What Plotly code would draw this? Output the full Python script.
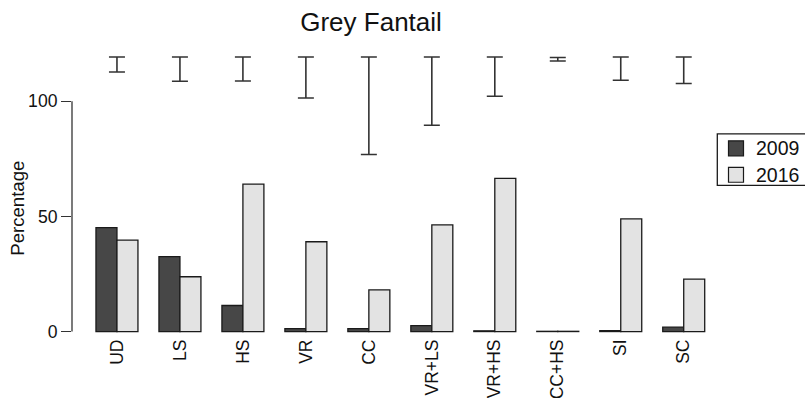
import plotly.graph_objects as go

# Habitat treatments on the x axis
categories = ["UD", "LS", "HS", "VR", "CC", "VR+LS", "VR+HS", "CC+HS", "SI", "SC"]

# Percentage of sites with Grey Fantail present, by survey year
pct_2009 = [45.1, 32.5, 11.3, 1.3, 1.3, 2.6, 0.3, 0.1, 0.4, 1.9]
pct_2016 = [39.7, 23.8, 64.0, 39.0, 18.1, 46.3, 66.5, 0.1, 48.9, 22.8]

# Interval bars drawn above each treatment group
interval_low = [112.7, 108.7, 108.8, 101.4, 76.9, 89.6, 102.2, 117.5, 109.1, 107.7]
interval_high = [119.2, 119.2, 119.2, 119.2, 119.2, 119.2, 119.2, 119.0, 119.2, 119.2]

y_ticks = [0, 50, 100]

series = [("2009", pct_2009, "#474747"), ("2016", pct_2016, "#e3e3e3")]

FONT = "Liberation Sans, Arial, Helvetica, sans-serif"
INK = "#1a1a1a"
TEXT = "#111111"

W, H = 805, 398
M_L, M_R, M_T, M_B = 72, 76, 46, 62.5
PLOT_W = W - M_L - M_R
PLOT_H = H - M_T - M_B


def px_x(px):
    """Horizontal pixel position -> paper coordinate."""
    return (px - M_L) / PLOT_W


def px_y(py):
    """Vertical pixel position (from top) -> paper coordinate."""
    return (H - M_B - py) / PLOT_H


fig = go.Figure()

for name, values, color in series:
    fig.add_trace(go.Bar(
        x=categories, y=values, name=name, showlegend=False,
        marker=dict(color=color, line=dict(color=INK, width=1.3)),
    ))

fig.add_trace(go.Scatter(
    x=categories, y=interval_low, mode="markers",
    marker=dict(size=1, color="rgba(0,0,0,0)"),
    error_y=dict(
        type="data", symmetric=False,
        array=[h - l for h, l in zip(interval_high, interval_low)],
        arrayminus=[0] * len(categories),
        width=8, thickness=1.6, color="#333333",
    ),
    showlegend=False, hoverinfo="skip",
))

# Axis spine spanning only the labelled tick range
fig.add_shape(type="line", xref="paper", yref="y",
              x0=0, x1=0, y0=y_ticks[0], y1=y_ticks[-1],
              line=dict(color="#333333", width=1.3))

# Legend box at the right edge, running off the page
fig.add_shape(type="rect", xref="paper", yref="paper",
              x0=px_x(717.3), x1=px_x(812), y0=px_y(185.7), y1=px_y(134),
              line=dict(color=INK, width=1.3), fillcolor="white", layer="above")
for i, (name, _, color) in enumerate(series):
    top = 141 + i * 26.5
    fig.add_shape(type="rect", xref="paper", yref="paper",
                  x0=px_x(728.5), x1=px_x(743.5), y0=px_y(top + 15), y1=px_y(top),
                  line=dict(color=INK, width=1.2), fillcolor=color, layer="above")
    fig.add_annotation(text=name, xref="paper", yref="paper",
                       x=px_x(754), y=px_y(top + 7.5), xanchor="left", yanchor="middle",
                       showarrow=False,
                       font=dict(size=19.5, color=TEXT, family=FONT))

fig.add_annotation(text="Percentage", textangle=-90,
                   xref="paper", yref="paper", x=px_x(18), y=px_y(209),
                   xanchor="center", yanchor="middle",
                   showarrow=False, font=dict(size=18.6, color=TEXT, family=FONT))

fig.update_layout(
    width=W, height=H,
    margin=dict(l=M_L, r=M_R, t=M_T, b=M_B, autoexpand=False),
    paper_bgcolor="white", plot_bgcolor="white",
    font=dict(family=FONT, color=TEXT),
    title=dict(text="Grey Fantail", x=0.4609, xref="container", xanchor="center",
               y=0.9447, yref="container", yanchor="middle",
               font=dict(size=26, color=TEXT, family=FONT)),
    barmode="group", bargap=1/3, bargroupgap=0,
    showlegend=False,
    xaxis=dict(type="category", range=[-0.714, 9.719], tickangle=-90,
               showgrid=False, zeroline=False, showline=False,
               ticks="", tickfont=dict(size=17.5, color=TEXT, family=FONT)),
    yaxis=dict(range=[-1.5, 124], tickvals=y_ticks, ticks="outside", ticklen=10,
               tickwidth=1.3, tickcolor="#333333",
               showgrid=False, zeroline=False, showline=False,
               tickfont=dict(size=17.6, color=TEXT, family=FONT)),
)

fig.write_html("out.html")
